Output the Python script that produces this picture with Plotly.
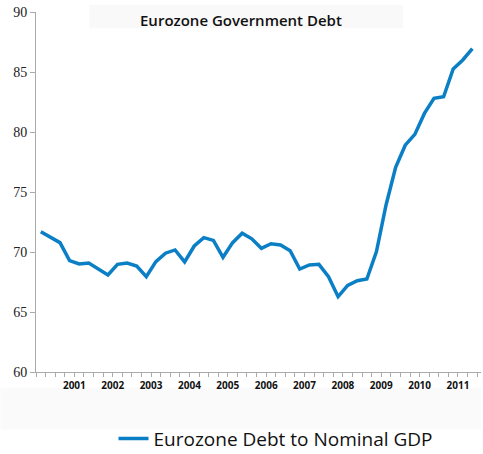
import plotly.graph_objects as go

# Quarterly data, 2000Q1 .. 2011Q2
quarters = [f"{y}Q{q}" for y in range(2000, 2012) for q in range(1, 5)][:46]
debt_to_gdp = [
    71.69, 71.2, 70.78, 69.28, 69.0, 69.08, 68.6, 68.08,
    68.97, 69.08, 68.83, 67.94, 69.2, 69.9, 70.17, 69.17,
    70.5, 71.2, 70.97, 69.56, 70.78, 71.56, 71.1, 70.31,
    70.69, 70.58, 70.11, 68.58, 68.92, 68.97, 67.94, 66.28,
    67.22, 67.61, 67.75, 70.03, 73.92, 77.05, 78.9, 79.8,
    81.55, 82.8, 82.94, 85.25, 86.0, 86.95,
]
year_labels = ["2001", "2002", "2003", "2004", "2005", "2006",
               "2007", "2008", "2009", "2010", "2011"]
y_ticks = [60, 65, 70, 75, 80, 85, 90]

x_idx = list(range(len(quarters)))
# year marks sit on the boundary before each year's Q1
year_pos = [quarters.index(f"{y}Q1") - 0.5 for y in year_labels]
quarter_bounds = [i - 0.5 for i in range(len(quarters) + 1)]

fig = go.Figure()
fig.add_trace(go.Scatter(
    x=x_idx, y=debt_to_gdp, mode="lines",
    name="Eurozone Debt to Nominal GDP",
    line=dict(color="#0b7fc5", width=3.5),
    customdata=quarters,
    hovertemplate="%{customdata}: %{y:.1f}<extra></extra>",
))
fig.add_trace(go.Scatter(
    x=year_pos, y=[59.8] * len(year_pos), mode="markers",
    marker=dict(color="black", size=5), cliponaxis=False,
    showlegend=False, hoverinfo="skip",
))

fig.update_layout(
    width=483, height=454,
    margin=dict(l=36, r=2, t=12, b=82, autoexpand=False),
    paper_bgcolor="white", plot_bgcolor="white",
    showlegend=True,
    legend=dict(orientation="h", xref="container", yref="container",
                x=0.235, xanchor="left", y=0.034, yanchor="middle",
                font=dict(family="Open Sans", size=19, color="#111"),
                itemwidth=30, bgcolor="rgba(0,0,0,0)"),
    shapes=[
        dict(type="rect", xref="paper", yref="paper", x0=0.12, x1=0.825, y0=0.955, y1=1.02,
             fillcolor="#f9f9f9", line=dict(width=0), layer="below"),
        dict(type="rect", xref="paper", yref="paper", x0=-0.08, x1=1.0, y0=-0.16, y1=-0.045,
             fillcolor="#fafafa", line=dict(width=0), layer="below"),
    ],
    annotations=[dict(
        text="Eurozone Government Debt", xref="paper", yref="paper",
        x=0.46, y=0.978, xanchor="center", yanchor="middle", showarrow=False,
        font=dict(family="Open Sans", size=15, color="#111", weight=600),
    )],
)
fig.update_xaxes(
    range=[-0.5, 45.9], showgrid=False, zeroline=False,
    showline=True, linecolor="#aaaaaa", linewidth=1,
    tickmode="array", tickvals=year_pos, ticktext=year_labels,
    ticks="outside", ticklen=4, tickcolor="#aaaaaa",
    tickfont=dict(family="Open Sans", size=10, color="#111", weight="bold"),
    minor=dict(tickmode="array", tickvals=quarter_bounds, ticks="outside",
               ticklen=4, tickcolor="#aaaaaa"),
)
fig.update_yaxes(
    range=[60, 90], showgrid=False, zeroline=False,
    showline=True, linecolor="#aaaaaa", linewidth=1,
    tickmode="array", tickvals=y_ticks,
    ticks="outside", ticklen=5, tickcolor="#aaaaaa",
    tickfont=dict(family="Liberation Serif", size=14, color="#222"),
)

fig.write_html("out.html")
